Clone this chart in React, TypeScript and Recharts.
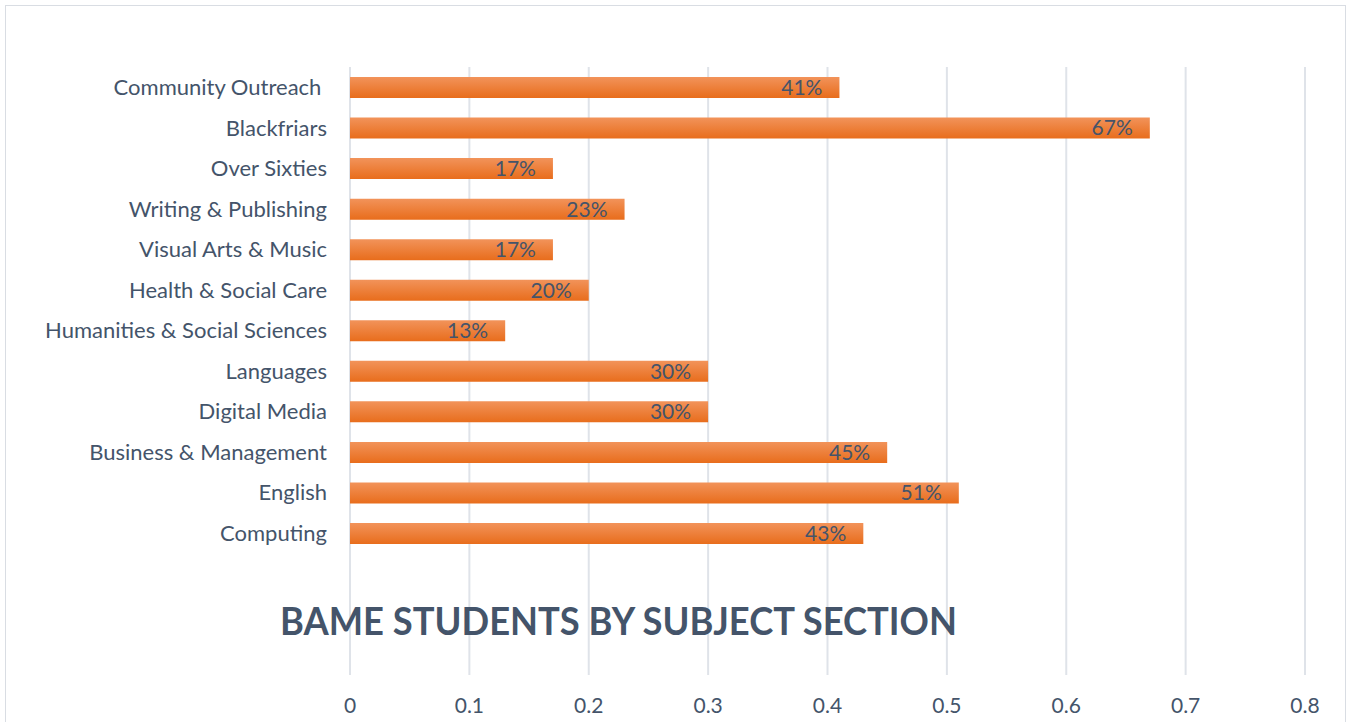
import React from 'react'
import { Bar, BarChart, CartesianGrid, LabelList, XAxis, YAxis } from 'recharts'

// top to bottom, as drawn
const sections = [
  'Community Outreach\u00a0',
  'Blackfriars',
  'Over Sixties',
  'Writing & Publishing',
  'Visual Arts & Music',
  'Health & Social Care',
  'Humanities & Social Sciences',
  'Languages',
  'Digital Media',
  'Business & Management',
  'English',
  'Computing',
]
const bameShare = [0.41, 0.67, 0.17, 0.23, 0.17, 0.2, 0.13, 0.3, 0.3, 0.45, 0.51, 0.43]
const xTicks = [0, 0.1, 0.2, 0.3, 0.4, 0.5, 0.6, 0.7, 0.8]
const chartTitle = 'BAME STUDENTS BY SUBJECT SECTION'

const textColor = '#44546A'
const font = 'Lato, "Open Sans", sans-serif'

const App: React.FC = () => {
  const chartData = sections.map((name, i) => ({ name, value: bameShare[i] }))

  return (
    <div style={{ position: 'absolute', left: 0, top: 0, width: 1349, height: 722, overflow: 'hidden', background: '#fff' }}>
      <div style={{ position: 'absolute', left: 5, top: 5, width: 1339, height: 760, border: '1px solid #D9DDE3' }}/>
      <BarChart
        width={1349}
        height={722}
        data={chartData}
        layout="vertical"
        margin={{ top: 67, right: 44, bottom: 0, left: 0 }}
        style={{ position: 'absolute', left: 0, top: 0, fontFamily: font }}
      >
        <defs>
          <linearGradient id="barFill" x1="0" y1="0" x2="0" y2="1">
            <stop offset="0%" stopColor="#F2935A"/>
            <stop offset="100%" stopColor="#E86D1C"/>
          </linearGradient>
        </defs>
        <CartesianGrid horizontal={false} stroke="#DFE3E9" strokeWidth={2}/>
        <XAxis
          type="number"
          domain={[0, 0.8]}
          ticks={xTicks}
          height={47}
          axisLine={false}
          tickLine={false}
          tickMargin={17}
          tick={{ fontSize: 21, fill: textColor, fontFamily: font }}
        />
        <YAxis
          type="category"
          dataKey="name"
          width={350}
          axisLine={false}
          tickLine={false}
          tickMargin={17}
          padding={{ top: 0, bottom: 121.5 }}
          interval={0}
          tick={{ fontSize: 22, fill: textColor, fontFamily: font }}
        />
        <Bar dataKey="value" fill="url(#barFill)" barSize={21} isAnimationActive={false}>
          <LabelList
            dataKey="value"
            position="insideRight"
            offset={17}
            formatter={(v: any) => `${Math.round(Number(v) * 100)}%`}
            style={{ fontSize: 21, fill: textColor, fontFamily: font }}
          />
        </Bar>
      </BarChart>
      <svg width={1349} height={722} style={{ position: 'absolute', left: 0, top: 0, pointerEvents: 'none' }}>
        <text
          x={618.5}
          y={635}
          textAnchor="middle"
          textLength={677}
          lengthAdjust="spacingAndGlyphs"
          fill={textColor}
          style={{ fontFamily: font, fontWeight: 700, fontSize: 38 }}
        >
          {chartTitle}
        </text>
      </svg>
    </div>
  )
}

export default App
